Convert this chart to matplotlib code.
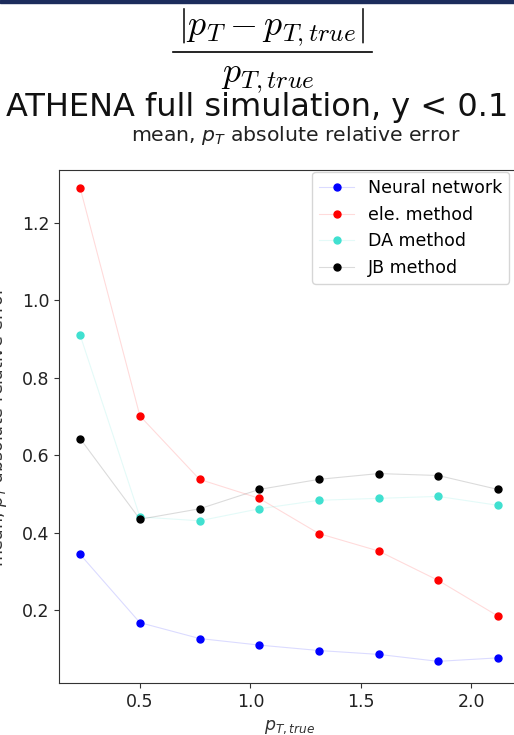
import matplotlib
matplotlib.use('Agg')
from matplotlib import pyplot as plt
from matplotlib.lines import Line2D
from matplotlib.patches import Rectangle

# bin centres in p_T,true
pt_true = [0.23, 0.50, 0.77, 1.04, 1.31, 1.58, 1.85, 2.12]

# mean |p_T - p_T,true| / p_T,true per bin
err_nn = [0.344, 0.168, 0.127, 0.110, 0.096, 0.086, 0.068, 0.077]
err_ele = [1.290, 0.702, 0.538, 0.489, 0.398, 0.353, 0.277, 0.185]
err_da = [0.910, 0.441, 0.431, 0.462, 0.484, 0.489, 0.494, 0.471]
err_jb = [0.643, 0.435, 0.462, 0.512, 0.538, 0.553, 0.548, 0.512]

labels = ['Neural network', 'ele. method', 'DA method', 'JB method']
colors = [(0, 0, 1), (1, 0, 0), (0.25, 0.878, 0.816), (0, 0, 0)]

W, H = 514, 735
fig = plt.figure(figsize=(W / 100, H / 100), dpi=100)
fig.patch.set_facecolor('white')
fig.patches.append(Rectangle((0, 0.996), 1, 0.004, transform=fig.transFigure,
                             color='#1c2c5c', zorder=5))

ax = fig.add_axes([0.1148, 0.0707, 0.8969, 0.698])

for vals, label, c in zip([err_nn, err_ele, err_da, err_jb], labels, colors):
    ax.plot(pt_true, vals, color=(*c, 0.14), linewidth=0.8, marker='o', markersize=5,
            markerfacecolor=c, markeredgecolor=c, label=label)

ax.set_xlim(0.134, 2.22)
ax.set_ylim(0.012, 1.337)
ax.set_xticks([0.5, 1.0, 1.5, 2.0])
ax.set_yticks([0.2, 0.4, 0.6, 0.8, 1.0, 1.2])
ax.tick_params(labelsize=12.5, colors='#333333', labelcolor='#222222')
for s in ax.spines.values():
    s.set_color('#333333')
ax.set_xlabel('$p_{T,true}$', fontsize=12.5, color='#333333', labelpad=5)

fig.text(9 / W, 0.42, 'mean, $p_T$ absolute relative error', rotation=90,
         ha='right', va='center', fontsize=12.5, color='#333333')

ax.legend(loc='upper right', bbox_to_anchor=(509 / W, 1 - 172 / H),
          bbox_transform=fig.transFigure, borderaxespad=0, fontsize=12.5,
          handlelength=2.0)

# fraction on top, set as numerator / bar / denominator
fig.text(271.5 / W, 1 - 35 / H, r'$|p_T - p_{T,true}|$', ha='center', va='baseline',
         fontsize=26, math_fontfamily='cm')
fig.lines.append(Line2D([173 / W, 372 / W], [1 - 52 / H, 1 - 52 / H],
                        transform=fig.transFigure, color='black', linewidth=1.2))
fig.text(267.5 / W, 1 - 82 / H, r'$p_{T,true}$', ha='center', va='baseline',
         fontsize=26, math_fontfamily='cm')

fig.text(0.5, 1 - 116 / H, 'ATHENA full simulation, y < 0.1', ha='center', va='baseline',
         fontsize=23, color='#111111')
fig.text(0.576, 1 - 141 / H, 'mean, $p_T$ absolute relative error', ha='center', va='baseline',
         fontsize=14.7, color='#222222')

fig.savefig('out.png', dpi=100, facecolor='white')
